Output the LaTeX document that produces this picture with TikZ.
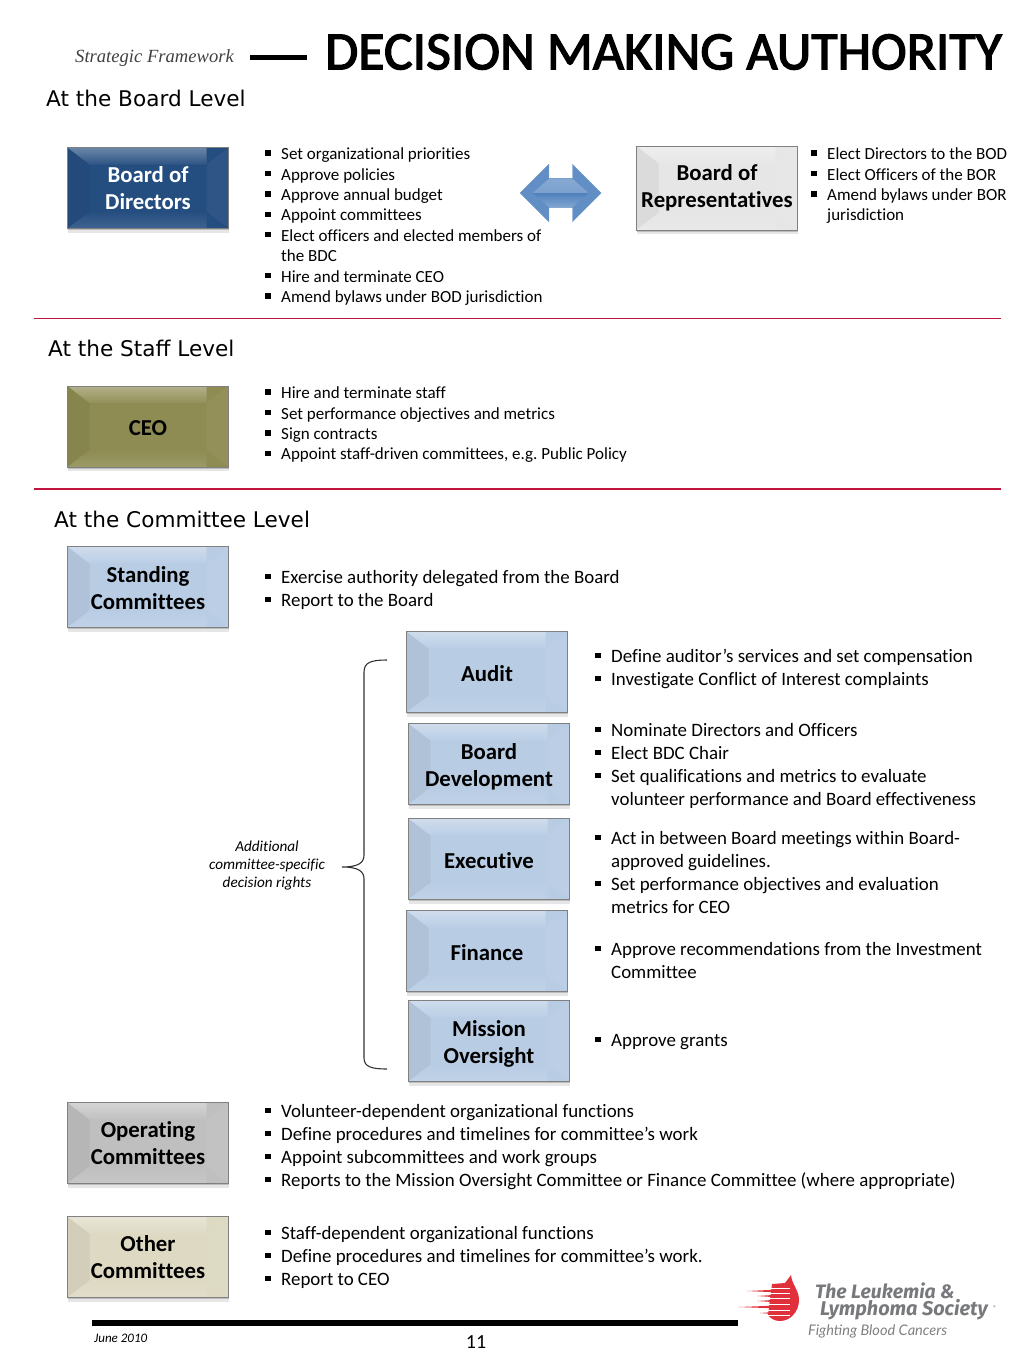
\documentclass[tikz,border=0pt]{standalone}
\usepackage{fontspec}
\setmainfont{Carlito}[Ligatures=CommonOff]
\newfontfamily\headfont{DejaVu Sans}
\newfontfamily\framefont{Liberation Serif}
\newfontfamily\titlefont[FakeBold=2.5]{Carlito}
\newfontfamily\logofont{Fira Sans}
\newfontfamily\slogfont{Lato}
\usetikzlibrary{positioning,shadows,shapes.arrows}
\definecolor{navyface}{HTML}{254E80}
\definecolor{silverface}{HTML}{E6E6E6}
\definecolor{oliveface}{HTML}{8E8C52}
\definecolor{skyface}{HTML}{B8CCE4}
\definecolor{greyface}{HTML}{BFBFBF}
\definecolor{sandface}{HTML}{DDD9C3}
\definecolor{arrowblue}{HTML}{4F81BD}
\definecolor{rulered}{HTML}{C0143C}
\definecolor{logored}{HTML}{E0303C}
\definecolor{logogrey}{HTML}{77797C}
\newcommand{\bul}{\par\spaceskip=.226em\xspaceskip=.226em\hangindent=16pt\hangafter=1\noindent\makebox[16pt][l]{\raisebox{.22em}{\rule{5.5pt}{5.5pt}}}}
\tikzset{
  bevel/.style={draw=black!50,line width=1pt,fill=#1,minimum width=161pt,minimum height=81pt,
    inner sep=0pt,align=center,font=\fontsize{22.8}{27}\selectfont\bfseries,
    drop shadow={shadow xshift=0pt,shadow yshift=-1.5pt,opacity=.4},
    drop shadow={shadow xshift=0pt,shadow yshift=-4pt,opacity=.2},
    path picture={
      \def\pb{path picture bounding box}
      \fill[#1!95!black] (\pb.north west) -- ++(22pt,-17pt) |- ([shift={(22pt,17pt)}]\pb.south west) -- (\pb.south west) -- cycle;
      \fill[#1!96!white] (\pb.north east) -- ++(-22pt,-17pt) |- ([shift={(-22pt,17pt)}]\pb.south east) -- (\pb.south east) -- cycle;
      \shade[top color=#1!68!white,bottom color=#1!96!white] (\pb.north west) -- ++(22pt,-17pt) -| ([xshift=-22pt]\pb.north east) -- (\pb.north east) -- cycle;
      \shade[top color=#1,bottom color=#1!88!white] (\pb.south west) -- ++(22pt,17pt) -| ([xshift=-22pt]\pb.south east) -- (\pb.south east) -- cycle;
    }},
  level/.style={anchor=west,inner sep=0pt,font=\headfont\fontsize{21.6}{26}\selectfont},
  small list/.style={anchor=north west,inner sep=0pt,align=left,text width=#1,font=\fontsize{17}{20.4}\selectfont},
  big list/.style={anchor=north west,inner sep=0pt,align=left,text width=#1,font=\fontsize{18.9}{22.9}\selectfont},
  rule/.style={rulered,line width=1.2pt},
  link arrow/.style={double arrow,double arrow head extend=14pt,minimum height=81pt,minimum width=57pt,inner sep=0pt,inner ysep=14.5pt,
    fill=#1!90!white,draw=#1!85!white,line width=.4pt,
    path picture={
      \def\pb{path picture bounding box}
      \shade[top color=#1!62!white,bottom color=#1!88!white] (\pb.center) ++(-12pt,14pt) -- ++(24pt,0pt) -- ++(16pt,-14pt) -- ++(-56pt,0pt) -- cycle;
      \shade[top color=#1,bottom color=#1!72!white] (\pb.center) ++(-28pt,0pt) -- ++(56pt,0pt) -- ++(-16pt,-14pt) -- ++(-24pt,0pt) -- cycle;
    }},
}
\begin{document}
\begin{tikzpicture}[x=1pt,y=-1pt,node distance=92pt]
\useasboundingbox (0,0) rectangle (1024,1365);

\node [anchor=east,inner sep=0pt,font=\framefont\itshape\fontsize{18.6}{22}\selectfont,text=black!75] (frame) at (234,58) {Strategic Framework};
\coordinate (dashstart) at (250,57);
\coordinate (dashend) at (307,57);
\draw [line width=5pt] (dashstart) -- (dashend);
\node [anchor=east,inner sep=0pt,font=\titlefont\fontsize{53.8}{58}\selectfont] (title) at (1002,52) {DECISION MAKING AUTHORITY};

\node [level] (boardlevel) at (46,98) {At the Board Level};
\node [bevel=navyface,text=white] (bod) at (148,188) {Board of\\Directors};
\node [bevel=silverface,minimum height=84pt] (bor) at (717,188) {Board of\\Representatives};
\node [link arrow=arrowblue] (link) at (560.7,193) {};
\node [small list=300pt] (bodlist) at (265,139) {\bul Set organizational priorities
  \bul Approve policies
  \bul Approve annual budget
  \bul Appoint committees
  \bul Elect officers and elected members of\break the BDC
  \bul Hire and terminate CEO
  \bul Amend bylaws under BOD jurisdiction\par};
\node [small list=205pt] (borlist) at (811,139) {\bul Elect Directors to the BOD
  \bul Elect Officers of the BOR
  \bul Amend bylaws under BOR\break jurisdiction\par};

\coordinate (rulea) at (34,318.5);
\coordinate (ruleb) at (1001,318.5);
\draw [rule] (rulea) -- (ruleb);

\node [level] (stafflevel) at (48,348) {At the Staff Level};
\node [bevel=oliveface] (ceo) at (148,426.5) {\rule{0pt}{18pt}CEO};
\node [small list=400pt] (ceolist) at (265,378) {\bul Hire and terminate staff
  \bul Set performance objectives and metrics
  \bul Sign contracts
  \bul Appoint staff-driven committees, e.g. Public Policy\par};

\coordinate (rulec) at (34,489);
\coordinate (ruled) at (1001,489);
\draw [rule] (rulec) -- (ruled);

\node [level] (committeelevel) at (54,519) {At the Committee Level};
\node [bevel=skyface] (standing) at (148,587) {\rule{0pt}{18pt}Standing\\Committees};
\node [big list=420pt] (standinglist) at (265,560.5) {\bul Exercise authority delegated from the Board
  \bul Report to the Board\par};

\node [bevel=skyface] (audit) at (487,672) {\rule{0pt}{19pt}Audit};
\node [bevel=skyface,below of=audit,xshift=2pt] (bdc) {\rule{0pt}{22pt}Board\\Development};
\node [bevel=skyface,below of=bdc,yshift=-3pt] (exec) {\rule{0pt}{19pt}Executive};
\node [bevel=skyface,below of=exec,xshift=-2pt] (finance) {\rule{0pt}{19pt}Finance};
\node [bevel=skyface,below of=finance,xshift=2pt,yshift=2pt] (mission) {\rule{0pt}{22pt}Mission\\Oversight};

\node [big list=400pt] (auditlist) at (595,639.5) {\bul Define auditor’s services and set compensation
  \bul Investigate Conflict of Interest complaints\par};
\node [big list=400pt] (bdclist) at (595,713.5) {\bul Nominate Directors and Officers
  \bul Elect BDC Chair
  \bul Set qualifications and metrics to evaluate\break volunteer performance and Board effectiveness\par};
\node [big list=400pt] (execlist) at (595,821.5) {\bul Act in between Board meetings within Board-\break approved guidelines.
  \bul Set performance objectives and evaluation\break metrics for CEO\par};
\node [big list=400pt] (financelist) at (595,932.5) {\bul Approve recommendations from the Investment\break Committee\par};
\node [big list=400pt] (missionlist) at (595,1023.5) {\bul Approve grants\par};

\node [inner sep=0pt,align=center,font=\itshape\fontsize{15.2}{18}\selectfont] (rights) at (267,865.5) {Additional\\committee-specific\\decision rights};
\coordinate (bracetop) at (387,660);
\coordinate (bracetip) at (342,867);
\coordinate (bracebot) at (387,1069);
\draw [black!80,line width=1.1pt] (bracetop) .. controls (372,660) and (364,662) .. (364,672)
  -- (364,855) .. controls (364,863) and (358,867) .. (bracetip)
  .. controls (358,867) and (364,871) .. (364,879)
  -- (364,1058) .. controls (364,1067) and (372,1069) .. (bracebot);

\node [bevel=greyface] (operating) at (148,1143) {Operating\\Committees};
\node [big list=720pt] (operatinglist) at (265,1094.5) {\bul Volunteer-dependent organizational functions
  \bul Define procedures and timelines for committee’s work
  \bul Appoint subcommittees and work groups
  \bul Reports to the Mission Oversight Committee or Finance Committee (where appropriate)\par};
\node [bevel=sandface] (other) at (148,1257) {Other\\Committees};
\node [big list=460pt] (otherlist) at (265,1216.5) {\bul Staff-dependent organizational functions
  \bul Define procedures and timelines for committee’s work.
  \bul Report to CEO\par};

\coordinate (footstart) at (92,1323);
\coordinate (footend) at (738,1323);
\draw [line width=6pt] (footstart) -- (footend);
\node [anchor=west,inner sep=0pt,font=\itshape\fontsize{13}{15}\selectfont] (date) at (94,1338) {June 2010};
\node [inner sep=0pt,font=\fontsize{20}{22}\selectfont] (page) at (476,1342) {11};

\fill [logored] (791,1275) .. controls (792,1285) and (799,1290) .. (799,1300)
  .. controls (799,1312) and (790,1321) .. (780,1321) .. controls (774,1321) and (770,1318) .. (768,1315) -- (772,1284) -- (785,1283) -- cycle;
\foreach \gapy in {1288.5,1293.5,1298.5,1304,1310,1315.5}
  \draw [white,line width=.9pt] (760,\gapy) -- (790,\gapy);
\foreach \streaky/\streakx in {1286/772,1291/747,1296/757,1301/757,1307/738,1313/760,1318/772}
  \fill [logored] (\streakx,\streaky) -- (782,\streaky-1.6) -- (782,\streaky+1.6) -- cycle;
\node [anchor=west,inner sep=0pt,font=\logofont\bfseries\itshape\fontsize{19.4}{20}\selectfont,text=logogrey] (leukemia) at (815,1290.5) {The Leukemia \&};
\node [anchor=west,inner sep=0pt,font=\logofont\bfseries\itshape\fontsize{19.9}{20}\selectfont,text=logogrey] (lymphoma) at (820,1310) {Lymphoma Society};
\node [anchor=west,inner sep=0pt,font=\fontsize{7}{7}\selectfont,text=logogrey] (mark) at (993,1308) {®};
\node [anchor=west,inner sep=0pt,font=\slogfont\itshape\fontsize{14.6}{16}\selectfont,text=black!50] (slogan) at (808,1331) {Fighting Blood Cancers};
\end{tikzpicture}
\end{document}
